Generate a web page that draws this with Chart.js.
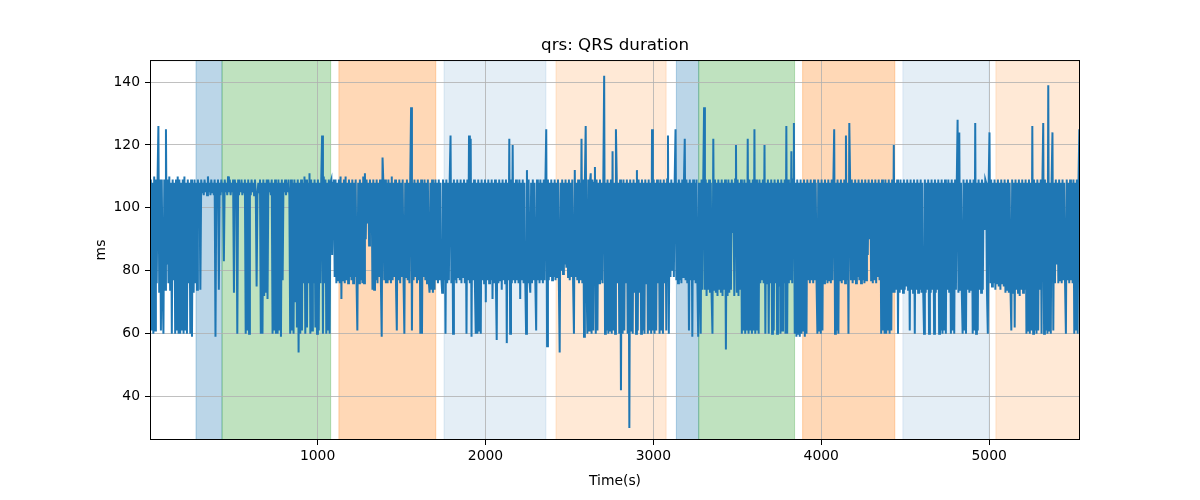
<!DOCTYPE html>
<html>
<head>
<meta charset="utf-8">
<title>qrs: QRS duration</title>
<script src="https://cdn.jsdelivr.net/npm/chart.js@4.4.1/dist/chart.umd.min.js"></script>
<style>
    body { margin: 0; background: #fff; }
    #wrap { width: 1200px; height: 500px; }
</style>
</head>
<body>
<div id="wrap"><canvas id="qrs-chart" width="1200" height="500"></canvas></div>
<script>
// QRS duration (ms), one reading every 5 s starting at t = 2 s, one row per 100 s
var startTime = 2;
var sampleStep = 5;
var qrsMs = [
    92, 109, 61, 108, 60, 110, 61, 109, 76, 109, 126, 73, 109, 61, 109, 76, 60, 109, 74, 125,
    82, 109, 76, 110, 74, 108, 60, 109, 77, 108, 60, 109, 61, 110, 60, 109, 60, 108, 61, 109,
    60, 110, 61, 108, 60, 109, 76, 108, 60, 109, 59, 108, 73, 109, 76, 108, 74, 109, 104, 108,
    74, 109, 105, 108, 104, 109, 105, 108, 104, 110, 105, 108, 104, 109, 105, 108, 104, 109, 59, 108,
    105, 109, 74, 108, 104, 109, 105, 108, 83, 109, 105, 108, 104, 110, 105, 109, 104, 108, 105, 109,
    73, 109, 105, 108, 60, 109, 104, 108, 105, 109, 104, 108, 105, 109, 60, 108, 61, 109, 60, 108,
    104, 109, 105, 108, 104, 109, 105, 75, 104, 108, 105, 109, 60, 108, 60, 109, 72, 108, 73, 109,
    71, 109, 105, 108, 104, 109, 60, 108, 61, 109, 60, 108, 60, 109, 61, 108, 59, 109, 77, 108,
    105, 109, 104, 108, 105, 109, 104, 60, 109, 61, 108, 60, 109, 70, 108, 62, 109, 54, 108, 60,
    109, 61, 108, 76, 110, 60, 109, 62, 108, 76, 111, 60, 109, 61, 108, 76, 109, 62, 108, 60,
    109, 61, 108, 76, 109, 123, 60, 110, 76, 109, 60, 108, 61, 109, 60, 108, 109, 85, 108, 109,
    78, 109, 76, 108, 77, 109, 76, 110, 71, 108, 77, 109, 76, 110, 77, 108, 76, 109, 78, 108,
    77, 109, 76, 108, 78, 109, 77, 61, 108, 76, 109, 77, 108, 76, 110, 76, 111, 90, 109, 95,
    108, 88, 109, 92, 108, 74, 109, 74, 108, 77, 109, 76, 108, 78, 109, 77, 59, 116, 108, 77,
    109, 76, 108, 76, 109, 77, 108, 76, 110, 77, 108, 78, 109, 76, 61, 108, 77, 109, 76, 108,
    78, 109, 77, 60, 108, 78, 109, 77, 108, 76, 109, 132, 61, 108, 77, 109, 78, 108, 76, 109,
    77, 108, 60, 109, 60, 108, 78, 109, 77, 108, 76, 109, 77, 73, 108, 74, 109, 73, 108, 74,
    109, 77, 108, 76, 109, 77, 108, 78, 73, 109, 77, 108, 60, 109, 76, 108, 77, 109, 123, 76,
    108, 60, 109, 77, 108, 76, 109, 78, 108, 77, 109, 76, 108, 78, 109, 76, 108, 60, 109, 77,
    123, 76, 122, 59, 108, 77, 109, 76, 60, 108, 60, 109, 61, 108, 60, 109, 77, 108, 76, 109,
    70, 108, 77, 109, 76, 108, 77, 109, 71, 108, 76, 109, 77, 58, 108, 76, 109, 77, 108, 74,
    109, 77, 108, 76, 109, 57, 108, 77, 122, 60, 109, 76, 120, 77, 108, 76, 109, 77, 108, 76,
    109, 71, 108, 77, 109, 76, 108, 77, 60, 112, 76, 109, 77, 73, 108, 76, 109, 77, 108, 76,
    61, 109, 77, 108, 76, 109, 77, 108, 76, 109, 77, 108, 125, 56, 109, 77, 108, 78, 109, 77,
    108, 78, 109, 77, 108, 78, 109, 77, 54, 108, 80, 109, 79, 108, 82, 109, 81, 108, 78, 109,
    77, 108, 78, 109, 76, 60, 112, 78, 108, 77, 109, 76, 108, 77, 122, 76, 109, 59, 108, 126,
    77, 60, 109, 61, 108, 111, 60, 109, 61, 108, 113, 60, 109, 61, 108, 76, 109, 77, 108, 76,
    109, 142, 60, 108, 61, 109, 60, 108, 61, 109, 60, 118, 61, 108, 60, 125, 109, 76, 108, 60,
    109, 42, 108, 60, 109, 61, 108, 76, 109, 60, 108, 30, 109, 61, 108, 60, 109, 73, 108, 60,
    112, 61, 109, 73, 108, 60, 109, 61, 108, 60, 109, 76, 108, 60, 109, 61, 108, 60, 125, 61,
    109, 60, 108, 61, 109, 76, 108, 60, 109, 61, 108, 60, 109, 76, 108, 61, 109, 123, 60, 108,
    78, 109, 80, 108, 78, 109, 125, 77, 108, 76, 109, 77, 108, 76, 109, 78, 108, 122, 77, 109,
    76, 108, 61, 109, 77, 108, 59, 109, 77, 108, 76, 109, 77, 59, 108, 76, 60, 109, 74, 108,
    132, 74, 109, 72, 108, 74, 109, 73, 108, 72, 60, 122, 74, 109, 73, 108, 72, 109, 74, 108,
    73, 109, 72, 108, 74, 109, 55, 108, 72, 109, 73, 108, 74, 109, 92, 108, 72, 109, 120, 73,
    109, 72, 108, 74, 109, 60, 108, 61, 109, 60, 108, 61, 122, 60, 109, 61, 108, 60, 109, 61,
    125, 60, 109, 61, 108, 60, 109, 76, 108, 77, 109, 76, 120, 60, 108, 76, 109, 60, 108, 76,
    109, 60, 108, 61, 109, 76, 108, 60, 109, 75, 108, 60, 109, 61, 108, 76, 109, 60, 126, 60,
    109, 76, 108, 77, 118, 76, 109, 127, 60, 108, 59, 109, 60, 108, 59, 109, 60, 108, 61, 109,
    59, 108, 60, 109, 77, 108, 76, 109, 77, 108, 76, 109, 77, 108, 76, 60, 109, 61, 108, 60,
    109, 61, 108, 76, 109, 77, 108, 76, 109, 77, 108, 76, 109, 77, 108, 125, 60, 108, 61, 109,
    60, 108, 77, 109, 76, 108, 77, 109, 76, 123, 77, 108, 60, 127, 108, 77, 109, 76, 108, 77,
    109, 76, 108, 78, 109, 77, 108, 76, 109, 77, 108, 76, 109, 77, 108, 85, 109, 90, 108, 77,
    109, 76, 108, 77, 109, 76, 108, 78, 109, 77, 108, 60, 109, 61, 108, 60, 109, 60, 108, 61,
    109, 60, 108, 61, 109, 73, 120, 73, 108, 74, 109, 60, 108, 73, 109, 74, 108, 73, 109, 74,
    108, 75, 109, 74, 108, 61, 109, 74, 108, 73, 109, 60, 108, 74, 109, 73, 108, 74, 109, 73,
    108, 74, 60, 109, 73, 108, 74, 109, 60, 108, 73, 109, 74, 108, 60, 109, 73, 108, 74, 109,
    60, 108, 61, 109, 60, 108, 61, 109, 60, 108, 74, 109, 73, 108, 60, 109, 61, 108, 60, 109,
    74, 108, 128, 73, 124, 74, 108, 73, 60, 109, 61, 108, 60, 109, 74, 108, 73, 109, 74, 108,
    60, 109, 61, 127, 60, 108, 61, 109, 74, 108, 73, 109, 74, 108, 93, 109, 108, 73, 60, 108,
    124, 76, 109, 75, 108, 76, 109, 74, 108, 76, 109, 75, 108, 74, 109, 76, 108, 75, 109, 73,
    108, 74, 109, 73, 108, 74, 61, 109, 73, 108, 62, 109, 74, 108, 73, 109, 72, 108, 74, 109,
    73, 108, 74, 109, 60, 108, 61, 109, 60, 108, 61, 126, 60, 109, 61, 108, 60, 109, 61, 108,
    74, 109, 60, 108, 127, 60, 109, 61, 108, 60, 139, 61, 108, 60, 109, 124, 61, 108, 76, 109,
    82, 108, 76, 109, 77, 108, 76, 109, 77, 108, 76, 60, 109, 77, 108, 76, 109, 77, 108, 76,
    109, 60, 108, 61, 109, 60, 108, 125, 61
];

// shaded phases (s)
var spanStart = [276, 431, 1127, 1753, 2420, 3137, 3270, 3889, 4486, 5040];
var spanEnd   = [431, 1078, 1704, 2360, 3076, 3270, 3841, 4438, 5000, 5541];
var spanPhase = [0, 1, 2, 3, 4, 0, 1, 2, 3, 4];

var xTicks = [1000, 2000, 3000, 4000, 5000];
var yTicks = [40, 60, 80, 100, 120, 140];
var xMin = 2, xMax = 5541;
var yMin = 26.2, yMax = 147;

var phaseColors = [
    'rgba(31,119,180,0.3)',
    'rgba(44,160,44,0.3)',
    'rgba(255,127,14,0.3)',
    'rgba(31,119,180,0.12)',
    'rgba(255,127,14,0.17)'
];

var points = qrsMs.map(function(v, i) {
    return { x: startTime + i * sampleStep, y: v };
});

var phaseBands = {
    id: 'phaseBands',
    beforeDraw: function(chart) {
        var ctx = chart.ctx, a = chart.chartArea, sx = chart.scales.x;
        ctx.save();
        ctx.beginPath();
        ctx.rect(a.left, a.top, a.right - a.left, a.bottom - a.top);
        ctx.clip();
        for (var i = 0; i < spanStart.length; i++) {
            var x0 = sx.getPixelForValue(spanStart[i]);
            var x1 = sx.getPixelForValue(spanEnd[i]);
            ctx.fillStyle = phaseColors[spanPhase[i]];
            ctx.strokeStyle = phaseColors[spanPhase[i]];
            ctx.lineWidth = 1;
            ctx.fillRect(x0, a.top, x1 - x0, a.bottom - a.top);
            ctx.strokeRect(x0, a.top, x1 - x0, a.bottom - a.top);
        }
        ctx.restore();
    },
    afterDraw: function(chart) {
        var ctx = chart.ctx, a = chart.chartArea;
        ctx.save();
        ctx.strokeStyle = '#000';
        ctx.lineWidth = 1;
        ctx.strokeRect(a.left + 0.5, a.top + 0.5, a.right - a.left - 1, a.bottom - a.top - 1);
        ctx.restore();
    }
};

Chart.defaults.font.family = '"DejaVu Sans", sans-serif';
Chart.defaults.color = '#000';

new Chart(document.getElementById('qrs-chart'), {
    type: 'line',
    data: {
        datasets: [{
            label: 'qrs',
            data: points,
            borderColor: '#1f77b4',
            borderWidth: 2,
            pointRadius: 0,
            tension: 0,
            fill: false
        }]
    },
    options: {
        responsive: false,
        animation: false,
        events: [],
        layout: { padding: { left: 0, right: 120, top: 0, bottom: 0 } },
        plugins: {
            legend: { display: false },
            tooltip: { enabled: false },
            title: {
                display: true,
                text: 'qrs: QRS duration',
                fullSize: false,
                color: '#000',
                font: { size: 16.7, weight: 'normal' },
                padding: { top: 36, bottom: 4 }
            }
        },
        scales: {
            x: {
                type: 'linear',
                min: xMin,
                max: xMax,
                afterBuildTicks: function(s) {
                    s.ticks = xTicks.map(function(v) { return { value: v }; });
                },
                afterFit: function(s) { s.height = 60; },
                border: { display: false },
                grid: { color: '#b0b0b0', lineWidth: 0.8, tickColor: '#000', tickLength: 5, tickWidth: 1 },
                ticks: {
                    color: '#000',
                    font: { size: 13.9 },
                    padding: 3,
                    maxRotation: 0,
                    autoSkip: false,
                    callback: function(v) { return String(v); }
                },
                title: {
                    display: true,
                    text: 'Time(s)',
                    color: '#000',
                    font: { size: 13.9 },
                    padding: { top: 0, bottom: 10.7 }
                }
            },
            y: {
                min: yMin,
                max: yMax,
                afterBuildTicks: function(s) {
                    s.ticks = yTicks.map(function(v) { return { value: v }; });
                },
                afterFit: function(s) { s.width = 150; },
                border: { display: false },
                grid: { color: '#b0b0b0', lineWidth: 0.8, tickColor: '#000', tickLength: 5, tickWidth: 1 },
                ticks: {
                    color: '#000',
                    font: { size: 13.9 },
                    padding: 5,
                    callback: function(v) { return String(v); }
                },
                title: {
                    display: true,
                    text: 'ms',
                    color: '#000',
                    font: { size: 13.9 },
                    padding: { top: 92.7, bottom: 0 }
                }
            }
        }
    },
    plugins: [phaseBands]
});
</script>
</body>
</html>
